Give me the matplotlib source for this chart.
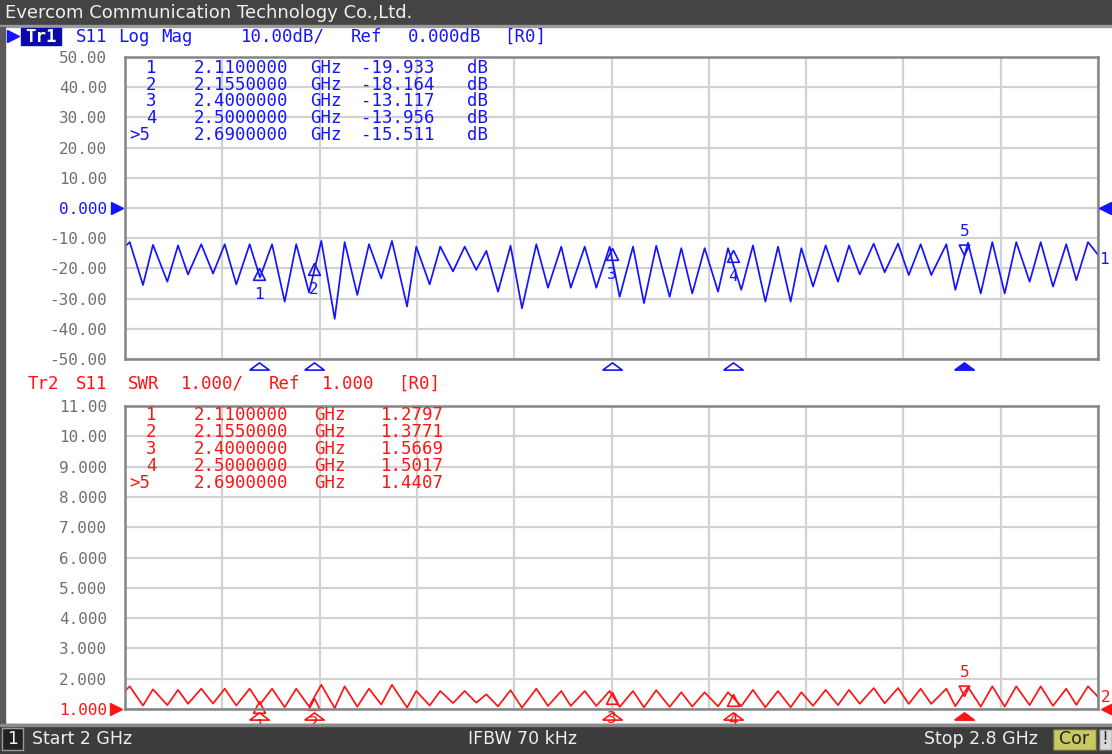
import numpy as np
import matplotlib.pyplot as plt
from matplotlib.path import Path
from matplotlib.patches import Rectangle
from matplotlib.transforms import blended_transform_factory

W, H = 1112, 754
BLUE = '#1414ff'
RED = '#ff1414'
GRAY = '#707070'
MONO = 'DejaVu Sans Mono'

# S11 trace (peaks and dips), GHz / dB
freq_ghz = [2.0000, 2.0039, 2.0148, 2.0230, 2.0348, 2.0436, 2.0518, 2.0627, 2.0724, 2.0820,
            2.0915, 2.1025, 2.1110, 2.1209, 2.1313, 2.1408, 2.1513, 2.1614, 2.1724, 2.1806,
            2.1910, 2.2006, 2.2107, 2.2195, 2.2319, 2.2395, 2.2505, 2.2592, 2.2697, 2.2793,
            2.2888, 2.2971, 2.3067, 2.3170, 2.3264, 2.3382, 2.3478, 2.3587, 2.3665, 2.3780,
            2.3875, 2.3985, 2.4067, 2.4177, 2.4267, 2.4368, 2.4478, 2.4574, 2.4664, 2.4766,
            2.4876, 2.4958, 2.5067, 2.5163, 2.5265, 2.5369, 2.5473, 2.5561, 2.5657, 2.5761,
            2.5862, 2.5953, 2.6041, 2.6156, 2.6246, 2.6356, 2.6444, 2.6542, 2.6629, 2.6753,
            2.6827, 2.6931, 2.7036, 2.7131, 2.7233, 2.7328, 2.7438, 2.7529, 2.7630, 2.7739,
            2.7822, 2.7918, 2.8000]
s11_db = [-12.8, -11.3, -25.5, -12.2, -24.4, -12.4, -22.0, -12.0, -21.7, -12.0,
          -25.3, -12.0, -23.0, -12.0, -31.0, -12.0, -28.0, -10.9, -36.7, -11.3,
          -28.8, -12.0, -23.3, -10.9, -32.6, -12.8, -25.3, -12.8, -21.0, -12.8,
          -20.5, -14.2, -27.7, -12.5, -33.2, -12.0, -26.4, -12.8, -26.4, -12.8,
          -26.4, -12.8, -29.4, -12.8, -31.5, -12.5, -29.4, -13.3, -28.3, -13.3,
          -27.7, -13.3, -27.1, -12.4, -31.0, -12.8, -31.0, -13.3, -26.0, -12.4,
          -24.4, -12.4, -22.0, -11.8, -21.3, -11.8, -22.2, -12.0, -22.2, -12.0,
          -27.1, -11.5, -28.3, -11.3, -28.3, -11.3, -24.4, -11.3, -26.0, -12.0,
          -23.9, -11.3, -15.5]

# marker readouts
mk_freq = [2.11, 2.155, 2.40, 2.50, 2.69]
mk_db = [-19.933, -18.164, -13.117, -13.956, -15.511]
mk_swr = [1.2797, 1.3771, 1.5669, 1.5017, 1.4407]
mk_num = ['1', '2', '3', '4', '>5']
mk_freq_txt = ['2.1100000', '2.1550000', '2.4000000', '2.5000000', '2.6900000']
mk_db_txt = ['-19.933', '-18.164', '-13.117', '-13.956', '-15.511']
mk_swr_txt = ['1.2797', '1.3771', '1.5669', '1.5017', '1.4407']

db_ticks = [50, 40, 30, 20, 10, 0, -10, -20, -30, -40, -50]
db_labels = ['50.00', '40.00', '30.00', '20.00', '10.00', '0.000',
             '-10.00', '-20.00', '-30.00', '-40.00', '-50.00']
swr_ticks = [11, 10, 9, 8, 7, 6, 5, 4, 3, 2, 1]
swr_labels = ['11.00', '10.00', '9.000', '8.000', '7.000', '6.000',
              '5.000', '4.000', '3.000', '2.000', '1.000']

# SWR trace from the same S11 magnitude
gamma = 10 ** (np.array(s11_db) / 20)
swr = (1 + gamma) / (1 - gamma)

fig = plt.figure(figsize=(W / 100, H / 100), dpi=100)
fig.patch.set_facecolor('white')


def px_axes(l, t, r, b):
    return fig.add_axes([l / W, 1 - b / H, (r - l) / W, (b - t) / H])


ax1 = px_axes(125, 57, 1098, 359)
ax2 = px_axes(125, 406, 1098, 709)

for ax, ticks, labels in [(ax1, db_ticks, db_labels), (ax2, swr_ticks, swr_labels)]:
    ax.set_xlim(2.0, 2.8)
    ax.set_ylim(ticks[-1], ticks[0])
    ax.set_xticks(np.linspace(2.0, 2.8, 11))
    ax.set_xticklabels([])
    ax.set_yticks(ticks, labels)
    ax.tick_params(length=0, pad=13, labelsize=11.5, labelcolor=GRAY)
    for lab in ax.get_yticklabels():
        lab.set_fontfamily(MONO)
    ax.grid(True, color='#d2d2d2', lw=1.6)
    ax.set_axisbelow(True)
    for sp in ax.spines.values():
        sp.set_color('#858585')
        sp.set_linewidth(1.8)

ax1.get_yticklabels()[5].set_color(BLUE)
ax2.get_yticklabels()[-1].set_color(RED)

ax1.plot(freq_ghz, s11_db, color=BLUE, lw=1.25)
ax2.plot(freq_ghz, swr, color=RED, lw=1.25)

# marker symbols
up_tri = Path([(0, 0), (-0.45, -0.9), (0.45, -0.9), (0, 0)])
dn_tri = Path([(0, 0), (-0.45, 0.9), (0.45, 0.9), (0, 0)])
flat_tri = Path([(-1, -0.37), (1, -0.37), (0, 0.37), (-1, -0.37)])

for ax, vals, col in [(ax1, mk_db, BLUE), (ax2, mk_swr, RED)]:
    bt = blended_transform_factory(ax.transData, ax.transAxes)
    for i in range(5):
        f, v = mk_freq[i], vals[i]
        if i < 4:
            ax.plot(f, v, marker=up_tri, ms=17, mfc='none', mec=col, mew=1.2, clip_on=False)
            ax.annotate(str(i + 1), (f, v), xytext=(0, -19), textcoords='offset points',
                        ha='center', va='center', color=col, fontsize=11.5, family=MONO,
                        annotation_clip=False)
            ax.plot(f, -0.022, marker=flat_tri, ms=14, mfc='none', mec=col, mew=1.2,
                    transform=bt, clip_on=False)
        else:
            ax.plot(f, v, marker=dn_tri, ms=15, mfc='none', mec=col, mew=1.2, clip_on=False)
            ax.annotate('5', (f, v), xytext=(0, 17), textcoords='offset points',
                        ha='center', va='center', color=col, fontsize=11.5, family=MONO,
                        annotation_clip=False)
            ax.plot(f, -0.022, marker=flat_tri, ms=14, mfc=col, mec=col, mew=1.2,
                    transform=bt, clip_on=False)

# overlay in pixel coords for the instrument frame and readouts
top = fig.add_axes([0, 0, 1, 1], zorder=10)
top.set_xlim(0, W)
top.set_ylim(H, 0)
top.patch.set_alpha(0)
top.axis('off')

top.add_patch(Rectangle((0, 0), W, 25, color='#444444'))
top.add_patch(Rectangle((0, 25), W, 2, color='#9a9a9a'))
top.add_patch(Rectangle((0, 27), 5, 697, color='#5a5a5a'))
top.add_patch(Rectangle((0, 724), W, 30, color='#3c3c3c'))
top.add_patch(Rectangle((0, 724), W, 2, color='#8a8a8a'))
top.text(5, 13, 'Evercom Communication Technology Co.,Ltd.', color='#f0f0f0',
         fontsize=13, va='center', ha='left')

# status bar
top.add_patch(Rectangle((2, 728), 21, 22, facecolor='#222222', edgecolor='#9a9a9a', lw=1))
top.text(12.5, 739, '1', color='#f0f0f0', fontsize=12.5, ha='center', va='center')
top.text(32, 739, 'Start 2 GHz', color='#eeeeee', fontsize=12.5, ha='left', va='center')
top.text(468, 739, 'IFBW 70 kHz', color='#eeeeee', fontsize=12.5, ha='left', va='center')
top.text(1038, 739, 'Stop 2.8 GHz', color='#eeeeee', fontsize=12.5, ha='right', va='center')
top.add_patch(Rectangle((1053, 729), 43, 21, facecolor='#c8c864', edgecolor='#6a6a3a', lw=1))
top.text(1074.5, 739.5, 'Cor', color='#222222', fontsize=12.5, ha='center', va='center')
top.add_patch(Rectangle((1099, 729), 13, 21, facecolor='#d8d8d8', edgecolor='#6a6a6a', lw=1))
top.text(1105, 739.5, '!', color='#222222', fontsize=12.5, ha='center', va='center')

# trace headers
top.plot(13, 36, marker='>', ms=8, color=BLUE)
top.add_patch(Rectangle((21, 28), 40, 17, color='#0a0aa8'))
top.text(41, 36.5, 'Tr1', color='white', fontsize=12.5, family=MONO, weight='bold',
         ha='center', va='center')
for w, xc in [('S11', 92), ('Log', 134), ('Mag', 177), ('10.00dB/', 283),
              ('Ref', 366), ('0.000dB', 445), ('[R0]', 525)]:
    top.text(xc, 36.5, w, color=BLUE, fontsize=12.5, family=MONO, ha='center', va='center')
for w, xc in [('Tr2', 43), ('S11', 92), ('SWR', 144), ('1.000/', 212),
              ('Ref', 284), ('1.000', 348), ('[R0]', 419)]:
    top.text(xc, 384, w, color=RED, fontsize=12.5, family=MONO, ha='center', va='center')

# marker tables
for i in range(5):
    y1 = 68 + i * 16.75
    y2 = 415 + i * 16.9
    nx = 140 if i == 4 else 151
    top.text(nx, y1, mk_num[i], color=BLUE, fontsize=12.5, family=MONO, ha='center', va='center')
    top.text(241, y1, mk_freq_txt[i], color=BLUE, fontsize=12.5, family=MONO, ha='center', va='center')
    top.text(326, y1, 'GHz', color=BLUE, fontsize=12.5, family=MONO, ha='center', va='center')
    top.text(398, y1, mk_db_txt[i], color=BLUE, fontsize=12.5, family=MONO, ha='center', va='center')
    top.text(477, y1, 'dB', color=BLUE, fontsize=12.5, family=MONO, ha='center', va='center')
    top.text(nx, y2, mk_num[i], color=RED, fontsize=12.5, family=MONO, ha='center', va='center')
    top.text(241, y2, mk_freq_txt[i], color=RED, fontsize=12.5, family=MONO, ha='center', va='center')
    top.text(330, y2, 'GHz', color=RED, fontsize=12.5, family=MONO, ha='center', va='center')
    top.text(412, y2, mk_swr_txt[i], color=RED, fontsize=12.5, family=MONO, ha='center', va='center')

# reference level arrows and trace numbers
top.plot(117, 208, marker='>', ms=9, color=BLUE)
top.plot(1105, 208, marker='<', ms=9, color=BLUE)
top.plot(116, 709, marker='>', ms=9, color=RED)
top.plot(1107, 709, marker='<', ms=9, color=RED)
top.text(1104, 259, '1', color=BLUE, fontsize=11.5, family=MONO, ha='center', va='center')
top.text(1106, 697, '2', color=RED, fontsize=11.5, family=MONO, ha='center', va='center')

fig.savefig('out.png', dpi=100)
